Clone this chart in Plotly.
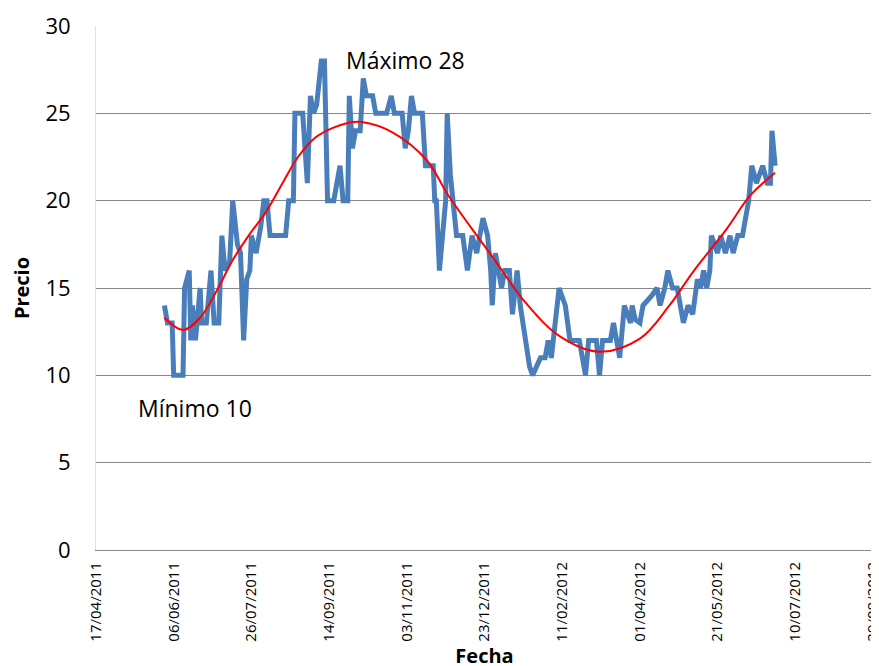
import plotly.graph_objects as go

fechas = [
    "2011-05-31", "2011-06-02", "2011-06-05", "2011-06-06", "2011-06-09", "2011-06-12",
    "2011-06-13", "2011-06-16", "2011-06-17", "2011-06-18", "2011-06-20", "2011-06-23",
    "2011-06-24", "2011-06-27", "2011-06-30", "2011-07-02", "2011-07-05", "2011-07-07",
    "2011-07-09", "2011-07-12", "2011-07-14", "2011-07-17", "2011-07-19", "2011-07-21",
    "2011-07-23", "2011-07-25", "2011-07-26", "2011-07-29", "2011-08-01", "2011-08-03",
    "2011-08-05", "2011-08-07", "2011-08-17", "2011-08-19", "2011-08-22", "2011-08-23",
    "2011-08-28", "2011-08-31", "2011-09-02", "2011-09-04", "2011-09-06", "2011-09-09",
    "2011-09-11", "2011-09-13", "2011-09-17", "2011-09-21", "2011-09-23", "2011-09-26",
    "2011-09-27", "2011-09-29", "2011-10-01", "2011-10-04", "2011-10-06", "2011-10-08",
    "2011-10-12", "2011-10-14", "2011-10-21", "2011-10-24", "2011-10-26", "2011-10-31",
    "2011-11-02", "2011-11-04", "2011-11-06", "2011-11-08", "2011-11-13", "2011-11-15",
    "2011-11-20", "2011-11-21", "2011-11-22", "2011-11-24", "2011-11-28", "2011-11-29",
    "2011-12-01", "2011-12-03", "2011-12-05", "2011-12-09", "2011-12-12", "2011-12-15",
    "2011-12-18", "2011-12-20", "2011-12-22", "2011-12-25", "2011-12-27", "2011-12-28",
    "2011-12-30", "2012-01-01", "2012-01-03", "2012-01-05", "2012-01-08", "2012-01-10",
    "2012-01-13", "2012-01-15", "2012-01-18", "2012-01-21", "2012-01-23", "2012-01-28",
    "2012-01-31", "2012-02-02", "2012-02-04", "2012-02-09", "2012-02-13", "2012-02-16",
    "2012-02-19", "2012-02-22", "2012-02-26", "2012-02-28", "2012-03-02", "2012-03-04",
    "2012-03-06", "2012-03-08", "2012-03-13", "2012-03-15", "2012-03-17", "2012-03-19",
    "2012-03-22", "2012-03-26", "2012-03-27", "2012-03-29", "2012-04-01", "2012-04-03",
    "2012-04-09", "2012-04-12", "2012-04-14", "2012-04-17", "2012-04-19", "2012-04-22",
    "2012-04-25", "2012-04-27", "2012-04-29", "2012-05-02", "2012-05-05", "2012-05-08",
    "2012-05-10", "2012-05-12", "2012-05-14", "2012-05-16", "2012-05-17", "2012-05-21",
    "2012-05-23", "2012-05-26", "2012-05-29", "2012-05-31", "2012-06-03", "2012-06-06",
    "2012-06-10", "2012-06-12", "2012-06-15", "2012-06-19", "2012-06-22", "2012-06-24",
    "2012-06-25", "2012-06-27",
]
precio = [
    14, 13, 13, 10, 10, 10,
    15, 16, 12, 14, 12, 15,
    13, 13, 16, 13, 13, 18,
    16, 16.5, 20, 17.5, 17, 12,
    15.5, 16, 18, 17, 18.5, 20,
    20, 18, 18, 20, 20, 25,
    25, 21, 26, 25, 25.5, 28,
    28, 20, 20, 22, 20, 20,
    26, 23, 24, 24, 27, 26,
    26, 25, 25, 26, 25, 25,
    23, 24, 26, 25, 25, 22,
    22, 20, 20, 16, 20, 25,
    21.5, 20, 18, 18, 16, 18,
    17, 18, 19, 18, 16, 14,
    17, 16, 15, 16, 16, 13.5,
    16, 14, 12, 10.5, 10, 11,
    11, 12, 11, 15, 14, 12,
    12, 12, 10, 12, 12, 12,
    10, 12, 12, 13, 12, 11,
    14, 13, 14, 13.2, 13, 14,
    14.6, 15, 14, 15, 16, 15,
    15, 14, 13, 14, 13.5, 15.5,
    15, 16, 15, 16, 18, 17,
    18, 17, 18, 17, 18, 18,
    20, 22, 21, 22, 21, 21,
    24, 22,
]

# línea de tendencia
fechas_tend = [
    "2011-05-31", "2011-06-12", "2011-06-23", "2011-07-04", "2011-07-14", "2011-07-25",
    "2011-08-04", "2011-08-15", "2011-08-25", "2011-09-05", "2011-09-16", "2011-09-26",
    "2011-10-05", "2011-10-25", "2011-11-16", "2011-11-29", "2011-12-14", "2011-12-28",
    "2012-01-19", "2012-02-10", "2012-03-06", "2012-04-01", "2012-04-20", "2012-05-05",
    "2012-05-27", "2012-06-11", "2012-06-27",
]
tendencia = [
    13.3, 12.6, 13.3, 14.9, 16.6, 18.1,
    19.3, 21.0, 22.5, 23.6, 24.15, 24.45,
    24.5, 23.9, 22.3, 20.4, 18.5, 16.8,
    14.1, 12.2, 11.35, 12.1, 14.0, 15.9,
    18.4, 20.3, 21.6,
]

fig = go.Figure()

fig.add_trace(go.Scatter(
    x=fechas, y=precio, mode="lines",
    line=dict(color="#4A7EBB", width=5),
    showlegend=False
))

fig.add_trace(go.Scatter(
    x=fechas_tend, y=tendencia, mode="lines",
    line=dict(color="#FF0000", width=2, shape="spline", smoothing=1.0),
    showlegend=False
))

fig.add_annotation(x="2011-11-02", y=28.05, text="Máximo 28", showarrow=False,
                   font=dict(size=23, color="#000000"))
fig.add_annotation(x="2011-06-20", y=8.13, text="Mínimo 10", showarrow=False,
                   font=dict(size=23, color="#000000"))

# la página añade 8px de margen al cuerpo: se compensa aquí
fig.update_layout(
    width=879,
    height=666,
    paper_bgcolor="#FFFFFF",
    plot_bgcolor="#FFFFFF",
    font=dict(family="Open Sans", color="#000000"),
    margin=dict(l=88, r=14, t=18, b=124),
    xaxis=dict(
        type="date",
        range=["2011-04-17", "2012-08-29"],
        tick0="2011-04-17",
        dtick=50 * 86400000,
        tickformat="%d/%m/%Y",
        tickangle=-90,
        tickfont=dict(family="Open Sans", size=15, color="#000000"),
        ticks="outside",
        ticklen=5,
        tickcolor="rgba(0,0,0,0)",
        ticklabeloverflow="allow",
        automargin=False,
        showgrid=False,
        zeroline=False,
        showline=True,
        linecolor="#868686",
        linewidth=1,
        title=dict(text="<b>Fecha</b>", font=dict(size=20), standoff=5),
    ),
    yaxis=dict(
        range=[0, 30],
        dtick=5,
        tickfont=dict(size=22),
        ticks="outside",
        ticklen=20,
        tickcolor="rgba(0,0,0,0)",
        automargin=False,
        showgrid=True,
        gridcolor="#868686",
        gridwidth=1,
        zeroline=False,
        showline=True,
        linecolor="#D9E1EC",
        linewidth=1,
        title=dict(text="<b>Precio</b>", font=dict(size=20), standoff=12),
    ),
)

fig.write_html("out.html")
